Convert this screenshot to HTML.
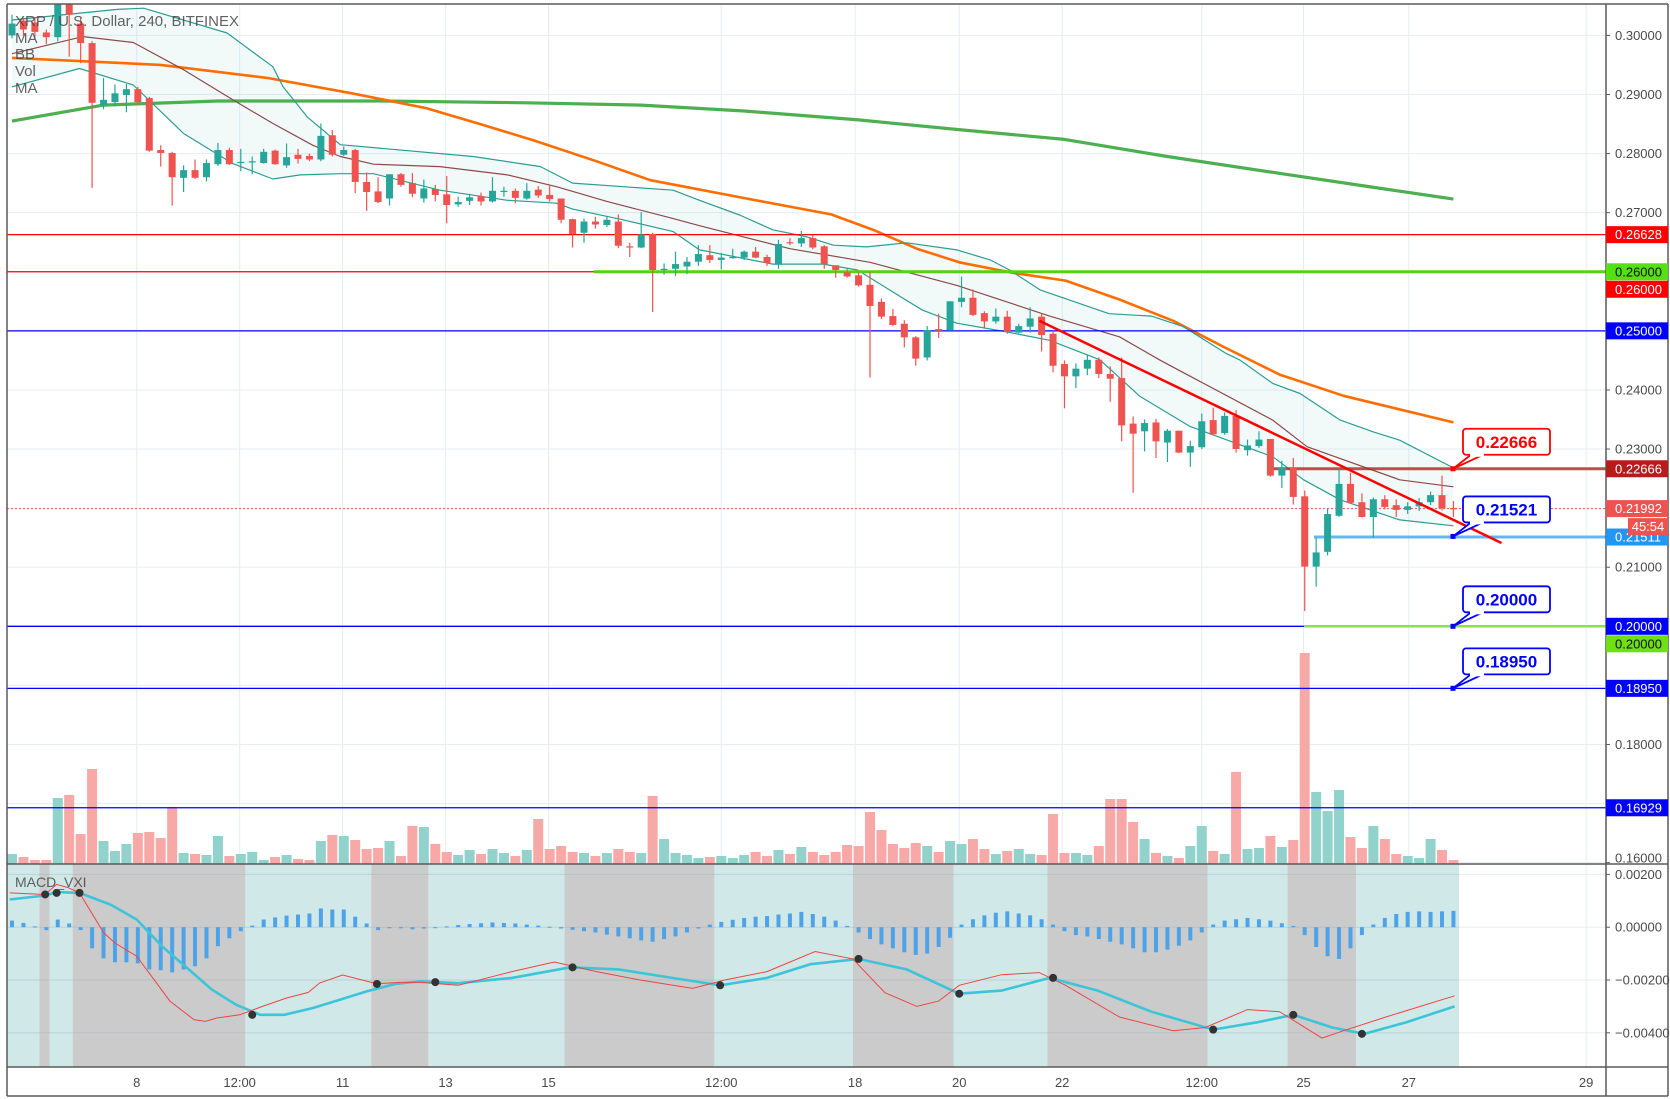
<!DOCTYPE html>
<html><head><meta charset="utf-8">
<style>
html,body{margin:0;padding:0;background:#fff;}
svg{display:block;font-family:"Liberation Sans",sans-serif;}
</style></head>
<body>
<svg id="chart" xmlns="http://www.w3.org/2000/svg" width="1670" height="1099" viewBox="0 0 1670 1099">
<defs>
<clipPath id="mainClip"><rect x="7" y="4" width="1599" height="860"/></clipPath>
<clipPath id="macdClip"><rect x="7" y="864" width="1599" height="203"/></clipPath>
</defs>
<rect x="0" y="0" width="1670" height="1099" fill="#ffffff"/>
<g id="grid"></g>
<g id="macdBg" clip-path="url(#macdClip)"></g>
<g id="main" clip-path="url(#mainClip)"></g>
<g id="macd" clip-path="url(#macdClip)"></g>
<g id="axes"></g>
<g id="overlay"></g>
</svg>
<script>
// ---- data ----
const opens=[.3000,.3025,.3022,.3005,.2997,.3070,.3020,.2987,.2882,.2887,.2899,.2909,.2894,.2806,.2801,.2759,.2772,.2760,.2782,.2806,.2786,.2786,.2784,.2805,.2780,.2798,.2796,.2790,.2831,.2798,
.2806,.2752,.2736,.2724,.2765,.2750,.2724,.2740,.2731,.2714,.2720,.2728,.2719,.2736,.2737,.2724,.2739,.2730,.2724,.2689,.2666,.2685,.2679,.2685,.2643,.2641,.2664,.2603,.2605,.2609,.2617,
.2628,.2620,.2624,.2624,.2634,.2625,.2612,.2650,.2648,.2657,.2643,.2611,.2599,.2594,.2578,.2549,.2525,.2512,.2489,.2455,.2503,.2501,.2549,.2556,.2530,.2516,.2524,.2497,.2507,.2524,
.2495,.2444,.2423,.2436,.2451,.2427,.2420,.2343,.2330,.2345,.2311,.2331,.2294,.2303,.2349,.2327,.2356,.2298,.2305,.2317,.2255,.2269,.2220,.2101,.2126,.2187,.2241,.2210,.2185,.2215,.2205,.2197,.2203,.2210,.2222,.2200];
const closes=[.3020,.3010,.3006,.2997,.3070,.3035,.2987,.2886,.2891,.2902,.2909,.2887,.2805,.2801,.2760,.2772,.2759,.2784,.2806,.2782,.2786,.2787,.2803,.2782,.2794,.2791,.2790,.2830,.2798,.2806,
.2752,.2735,.2718,.2765,.2747,.2732,.2741,.2730,.2713,.2718,.2726,.2719,.2737,.2737,.2725,.2737,.2729,.2723,.2688,.2664,.2685,.2680,.2688,.2644,.2642,.2663,.2603,.2605,.2613,.2617,.2630,
.2620,.2624,.2625,.2634,.2624,.2615,.2647,.2648,.2657,.2641,.2613,.2603,.2592,.2577,.2542,.2524,.2510,.2489,.2453,.2501,.2500,.2550,.2556,.2527,.2516,.2524,.2498,.2508,.2521,.2493,
.2441,.2423,.2436,.2451,.2427,.2419,.2340,.2326,.2344,.2313,.2331,.2294,.2305,.2347,.2325,.2356,.2300,.2306,.2316,.2255,.2269,.2219,.2101,.2125,.2190,.2241,.2209,.2185,.2215,.2202,.2197,.2203,.2210,.2222,.2200,.2199];
const highs=[.3035,.3030,.3030,.3010,.3075,.3075,.3030,.2990,.2928,.2917,.2918,.2913,.2896,.2814,.2803,.2780,.2790,.2790,.2818,.2810,.2808,.2795,.2808,.2807,.2817,.2808,.2800,.2851,.2840,.2812,
.2808,.2768,.2760,.2765,.2767,.2767,.2756,.2747,.2762,.2727,.2732,.2734,.2760,.2744,.2741,.2750,.2745,.2747,.2724,.2690,.2690,.2693,.2693,.2697,.2649,.2701,.2666,.2614,.2634,.2625,.2645,
.2645,.2632,.2639,.2636,.2642,.2629,.2654,.2657,.2669,.2662,.2645,.2611,.2605,.2600,.2600,.2555,.2537,.2518,.2491,.2508,.2529,.2550,.2592,.2570,.2533,.2538,.2534,.2512,.2540,.2530,
.2500,.2450,.2445,.2460,.2455,.2440,.2455,.2355,.2350,.2351,.2334,.2331,.2314,.2360,.2370,.2362,.2366,.2316,.2330,.2317,.2280,.2285,.2230,.2150,.2200,.2266,.2260,.2225,.2218,.2222,.2215,.2210,.2217,.2228,.2255,.2212];
const lows=[.2995,.3000,.2995,.2985,.2990,.2964,.2953,.2742,.2875,.2880,.2870,.2882,.2803,.2778,.2712,.2735,.2757,.2753,.2779,.2781,.2770,.2765,.2783,.2781,.2776,.2783,.2787,.2787,.2795,.2796,
.2733,.2703,.2716,.2712,.2744,.2726,.2717,.2719,.2682,.2710,.2713,.2712,.2717,.2727,.2716,.2722,.2725,.2719,.2682,.2641,.2649,.2673,.2676,.2640,.2625,.2640,.2532,.2595,.2593,.2596,.2610,
.2615,.2604,.2622,.2620,.2623,.2610,.2605,.2645,.2642,.2638,.2605,.2590,.2590,.2575,.2421,.2520,.2508,.2472,.2441,.2450,.2488,.2500,.2540,.2525,.2505,.2512,.2495,.2496,.2497,.2465,
.2430,.2369,.2403,.2425,.2420,.2380,.2313,.2226,.2296,.2285,.2278,.2293,.2270,.2300,.2323,.2324,.2294,.2289,.2302,.2253,.2234,.2206,.2026,.2067,.2120,.2185,.2207,.2184,.2150,.2198,.2185,.2190,.2195,.2205,.2196,.2185];
const volumes=[100,70,40,40,660,690,300,950,230,130,200,310,320,260,570,110,100,90,280,80,100,120,40,70,90,50,40,230,290,280,240,150,160,230,80,380,370,
200,120,90,140,100,150,110,80,140,
450,150,180,120,110,80,110,150,120,110,680,250,110,90,60,70,80,60,90,120,80,140,100,170,120,90,120,190,180,520,340,200,160,210,180,120,230,200,250,150,100,130,150,100,90,
500,110,110,90,180,650,650,420,250,110,80,60,180,380,130,100,920,150,160,280,170,240,2110,720,530,740,270,160,380,250,100,80,60,250,140,40];
// moving averages (candle index, value)
const maGreenIdx=[0,8,18,32,45,55,64,74,83,92,101,111,120,126];
const maGreenVal=[.2855,.2882,.2889,.2889,.2886,.2882,.2872,.2857,.2840,.2824,.2795,.2766,.2740,.2723];
const maOrangeIdx=[0,13,22.3,29.7,36.2,40.9,45.5,51.1,55.8,64.2,71.6,75.4,79.1,82.8,87.5,92.1,96.8,101.5,106.1,110.8,116.4,126];
const maOrangeVal=[.2962,.2950,.2928,.2902,.2877,.2850,.2823,.2787,.2755,.2724,.2697,.2670,.2639,.2616,.2598,.2585,.2553,.2517,.2471,.2426,.2390,.2345];
const bbUpperIdx=[0,9.2,11.5,18.8,22.8,23.7,25.8,28.7,40.3,46.2,49,57.8,60.1,63.6,66.5,69.5,71.8,74.7,78.2,82.6,85.5,87.2,89.9,95.9,99.6,102.4,106.1,107.3,110.2,112.6,116.1,119,121.3,126];
const bbUpperVal=[.3026,.3044,.3046,.3004,.2947,.2913,.2862,.2815,.2795,.2778,.2750,.2738,.2721,.2696,.2671,.2659,.2645,.2642,.2649,.2637,.2620,.2603,.2569,.2529,.2525,.2507,.2462,.2451,.2411,.2394,.2349,.2329,.2315,.2268];
const bbMidIdx=[0,6.2,10.6,15,19.3,22.8,26.3,28.7,31.6,37.4,43.3,47.6,52,57.8,60.1,68,75,82.6,90.7,96.8,100.3,103,110.2,113.2,121.3,126];
const bbMidVal=[.2969,.2998,.2988,.2942,.2891,.2851,.2814,.2795,.2782,.2778,.2764,.2744,.2719,.2690,.2678,.2639,.2616,.2577,.2525,.2490,.2451,.2423,.2349,.2304,.2248,.2236];
const bbLowerIdx=[0,5.9,10.6,15,19.3,22.8,25.2,28.7,31.6,37.4,43.3,47.6,49,53.4,57.8,60.1,66.5,70.9,73.9,77.9,79.6,82.6,87,90.7,95.1,98.6,103,110.2,112.9,116.1,121.3,126];
const bbLowerVal=[.2913,.2944,.2916,.2834,.2783,.2757,.2764,.2766,.2766,.2738,.2721,.2716,.2706,.2688,.2668,.2637,.2613,.2613,.2603,.2555,.2535,.2513,.2498,.2484,.2451,.2389,.2338,.2287,.2248,.2214,.2180,.2170];
// MACD
const macdHist=[0.00025,0.00016,0.00003,-0.00011,0.00029,0.00014,-0.00011,-0.0008,-0.00118,-0.00133,-0.00133,-0.00137,-0.0016,-0.00163,-0.00171,-0.0016,-0.00148,-0.00118,-0.00072,-0.00042,-0.00015,0.00006,0.00029,0.00037,0.00044,0.00048,0.00052,0.00071,0.00067,0.00067,0.0004,0.00014,-0.00011,-0.00004,-0.00004,-0.00008,
-0.00005,-0.00003,0.00003,0.00008,0.00012,0.00015,0.00018,0.00016,0.00014,0.00010,0.00006,0.00002,
-0.00005,-0.00010,-0.00015,-0.00020,-0.00028,-0.00035,-0.00042,
-0.00050,-0.00055,-0.00045,-0.00035,-0.00020,-0.00005,
0.00010,0.00020,0.00028,0.00035,0.00040,0.00042,0.00048,0.00052,0.00058,0.00050,0.00040,0.00025,0.00005,
-0.00020,-0.00045,-0.00065,-0.00080,-0.00095,-0.00105,-0.00100,-0.00075,-0.00040,
0.00010,0.00030,0.00045,0.00055,0.00060,0.00052,0.00045,0.00030,0.00010,
-0.00015,-0.00030,-0.00035,-0.00045,-0.00055,-0.00065,-0.00080,-0.00095,-0.00095,-0.00085,-0.00070,-0.00050,-0.00020,
0.00010,0.00025,0.00030,0.00035,0.00030,0.00025,0.00015,0.00005,
-0.00030,-0.00075,-0.00110,-0.00120,-0.00080,-0.00030,
0.00010,0.00035,0.00050,0.00058,0.00060,0.00058,0.00060,0.00062];
const macdIdx=[-0.2,2.9,3.9,4.9,5.9,8,9,10.9,13.8,15.9,16.9,17.9,19.9,21.9,24,25.9,26.9,28.9,31.9,33.9,35.7,39,43.7,47.4,51.1,54.9,59.5,62.3,66,70.2,73.5,76.3,79.1,81,82.8,86.5,89.8,92.1,96.8,101.5,104.3,108,110.8,114.5,116.4,120.1,126.1];
const macdVal=[0.0013,0.00124,0.00162,0.0015,0.0013,-0.0002,-0.0006,-0.0011,-0.0028,-0.0035,-0.00357,-0.00344,-0.00332,-0.003,-0.00268,-0.00247,-0.00211,-0.00181,-0.00214,-0.00209,-0.00209,-0.0022,-0.00168,-0.00132,-0.00168,-0.002,-0.00232,-0.002,-0.00168,-0.00092,-0.0012,-0.00248,-0.003,-0.0028,-0.0022,-0.0018,-0.00172,-0.0022,-0.0034,-0.00392,-0.0038,-0.00312,-0.0032,-0.0042,-0.00392,-0.0034,-0.0026];
const sigIdx=[-0.2,2.9,3.9,5.9,8.6,10.9,13.1,15.3,17.5,19.6,21.7,23.8,26.3,28.2,31,33.5,35.7,39,43.7,48.8,53,57.7,61.9,66,69.8,74,78.2,82.8,86.5,90.7,94.9,99.6,105,108.9,112,115.4,118.2,121.9,126.1];
const sigVal=[0.00105,0.0012,0.00133,0.0013,0.00086,0.00029,-0.00072,-0.00154,-0.00237,-0.00294,-0.00332,-0.00332,-0.00306,-0.00281,-0.00243,-0.00215,-0.00205,-0.00212,-0.00192,-0.00152,-0.0016,-0.00192,-0.0022,-0.00192,-0.0014,-0.0012,-0.0016,-0.00252,-0.0024,-0.00192,-0.0024,-0.0032,-0.00388,-0.0036,-0.00332,-0.0038,-0.00404,-0.0036,-0.003];
const crossIdx=[2.9,3.9,5.9,21,31.9,37,49,61.9,74,82.8,91,105,112,118];
const crossVal=[0.00124,0.0013,0.0013,-0.00332,-0.00215,-0.00208,-0.00152,-0.0022,-0.0012,-0.00252,-0.00192,-0.00388,-0.00332,-0.00404];
const bandStart=[-0.5,2.4,3.3,5.3,20.4,31.4,36.4,48.3,61.4,73.5,82.3,90.5,104.5,111.5,117.5];
const bandEnd=[2.4,3.3,5.3,20.4,31.4,36.4,48.3,61.4,73.5,82.3,90.5,104.5,111.5,117.5,126.5];
const bandType=[0,1,0,1,0,1,0,1,0,1,0,1,0,1,0];
// axis ticks
const priceTicks=[0.30,0.29,0.28,0.27,0.24,0.23,0.21,0.18,0.16];
const gridPrices=[0.30,0.29,0.28,0.27,0.26,0.25,0.24,0.23,0.22,0.21,0.20,0.19,0.18,0.17,0.16];
const macdTicks=[0.002,0,-0.002,-0.004];
const timeLabels=["8","12:00","11","13","15","12:00","18","20","22","12:00","25","27","29"];
const timeIdx=[10.9,19.9,28.9,37.9,46.9,62,73.7,82.8,91.8,104,112.9,122.1,137.6];

// ---- scales ----
const NS="http://www.w3.org/2000/svg";
function py(p){return 35.4+(0.30-p)*5909;}
function cx(i){return 12+i*11.44;}
function my(v){return 927.2-v*26400;}
function vh(v){return v*0.1;}
const RIGHT=1606, VBASE=864, MTOP=864, MBOT=1067;
function mk(tag,parent){const e=document.createElementNS(NS,tag);parent.appendChild(e);return e;}
function fmt(v){return v.toFixed(5);}
const G=document.getElementById('grid'),M=document.getElementById('main'),MB=document.getElementById('macdBg'),MC=document.getElementById('macd'),AX=document.getElementById('axes'),OV=document.getElementById('overlay');

// grid
gridPrices.forEach(p=>{const l=mk('line',G);l.setAttribute('x1',7);l.setAttribute('x2',RIGHT);l.setAttribute('y1',py(p));l.setAttribute('y2',py(p));l.setAttribute('stroke','#e6edf3');l.setAttribute('stroke-width',1);

});
macdTicks.forEach(v=>{const l=mk('line',G);l.setAttribute('x1',7);l.setAttribute('x2',RIGHT);l.setAttribute('y1',my(v));l.setAttribute('y2',my(v));l.setAttribute('stroke','#e6edf3');

});
timeIdx.forEach(i=>{const l=mk('line',G);l.setAttribute('x1',cx(i));l.setAttribute('x2',cx(i));l.setAttribute('y1',4);l.setAttribute('y2',MBOT);l.setAttribute('stroke','#e6edf3');

});

// MACD background bands
bandStart.forEach((s,k)=>{const r=mk('rect',MB);const x0=cx(s),x1=cx(bandEnd[k]);r.setAttribute('x',Math.max(7,x0));r.setAttribute('y',MTOP);r.setAttribute('width',x1-Math.max(7,x0));r.setAttribute('height',MBOT-MTOP);r.setAttribute('fill',bandType[k]?'#cbcbcb':'#d0e8e8');

});
macdTicks.forEach(v=>{const l=mk('line',MB);l.setAttribute('x1',7);l.setAttribute('x2',1459);l.setAttribute('y1',my(v));l.setAttribute('y2',my(v));l.setAttribute('stroke','rgba(150,170,180,0.35)');

});

function pathFrom(idx,vals,yf){return idx.map((i,k)=>(k?'L':'M')+cx(i).toFixed(1)+' '+yf(vals[k]).toFixed(1)).join(' ');}

// Bollinger fill
const fill=mk('path',M);
fill.setAttribute('d',pathFrom(bbUpperIdx,bbUpperVal,py)+' '+bbLowerIdx.slice().reverse().map((i,k)=>'L'+cx(i).toFixed(1)+' '+py(bbLowerVal[bbLowerVal.length-1-k]).toFixed(1)).join(' ')+' Z');
fill.setAttribute('fill','rgba(38,166,154,0.06)');



// volume bars
volumes.forEach((v,i)=>{const r=mk('rect',M);const up=closes[i]>=opens[i];r.setAttribute('x',cx(i)-5);r.setAttribute('width',10);r.setAttribute('y',VBASE-vh(v));r.setAttribute('height',vh(v));r.setAttribute('fill',up?'#92d2cc':'#f7a9a7');

});

// lines
function line(idx,vals,color,w,name){const p=mk('path',M);p.setAttribute('d',pathFrom(idx,vals,py));p.setAttribute('fill','none');p.setAttribute('stroke',color);p.setAttribute('stroke-width',w);p.setAttribute('stroke-linejoin','round');return p;}
const g1=line(maGreenIdx,maGreenVal,'#4caf50',3.2);


const o1=line(maOrangeIdx,maOrangeVal,'#ff6d00',2.6);


const bu=line(bbUpperIdx,bbUpperVal,'#2a9d94',1.2);


const bl=line(bbLowerIdx,bbLowerVal,'#2a9d94',1.2);


const bm=line(bbMidIdx,bbMidVal,'#8d4a4a',1.2);



// horizontal levels
function hline(p,x0,x1,color,w,dash){const l=mk('line',M);l.setAttribute('x1',x0);l.setAttribute('x2',x1);l.setAttribute('y1',py(p));l.setAttribute('y2',py(p));l.setAttribute('stroke',color);l.setAttribute('stroke-width',w);if(dash)l.setAttribute('stroke-dasharray',dash);return l;}
let h;
h=hline(0.26628,7,RIGHT,'#ff0000',1.3);


h=hline(0.26,7,RIGHT,'#ff0000',1.3);


h=hline(0.26,594,RIGHT,'#55d214',3);


h=hline(0.25,7,RIGHT,'#0000ff',1.3);


h=hline(0.22666,1268,RIGHT,'rgba(178,34,34,0.8)',3);


h=hline(0.21992,7,RIGHT,'#ef5350',1,'2,2');


h=hline(0.21511,1314,RIGHT,'#64b5f6',3);


h=hline(0.20,7,1304,'#0000ff',1.3);


h=hline(0.20,1304,RIGHT,'#8de04a',2.5);


h=hline(0.1895,7,RIGHT,'#0000ff',1.3);


h=hline(0.16929,7,RIGHT,'#0000ff',1.3);



// candles
opens.forEach((o,i)=>{const c=closes[i],up=c>=o,col=up?'#26a69a':'#ef5350',x=cx(i);
const w=mk('line',M);w.setAttribute('x1',x);w.setAttribute('x2',x);w.setAttribute('y1',py(highs[i]));w.setAttribute('y2',py(lows[i]));w.setAttribute('stroke',col);w.setAttribute('stroke-width',1.2);


const b=mk('rect',M);const y0=py(Math.max(o,c)),y1=py(Math.min(o,c));b.setAttribute('x',x-3.5);b.setAttribute('width',7);b.setAttribute('y',y0);b.setAttribute('height',Math.max(1.2,y1-y0));b.setAttribute('fill',col);

});

// trend line
const trendIdx=[89.8,130.2], trendVal=[0.2517,0.2141];
const tl=mk('line',M);tl.setAttribute('x1',cx(trendIdx[0]));tl.setAttribute('y1',py(trendVal[0]));tl.setAttribute('x2',cx(trendIdx[1]));tl.setAttribute('y2',py(trendVal[1]));tl.setAttribute('stroke','#ff0000');tl.setAttribute('stroke-width',2.5);



// MACD
macdHist.forEach((v,i)=>{const r=mk('rect',MC);const y0=my(Math.max(v,0)),y1=my(Math.min(v,0));r.setAttribute('x',cx(i)-2);r.setAttribute('width',4);r.setAttribute('y',y0);r.setAttribute('height',Math.max(1,y1-y0));r.setAttribute('fill','#4ea3e8');

});
const sl=mk('path',MC);sl.setAttribute('d',pathFrom(sigIdx,sigVal,my));sl.setAttribute('fill','none');sl.setAttribute('stroke','#3cc4d8');sl.setAttribute('stroke-width',2.6);


const ml=mk('path',MC);ml.setAttribute('d',pathFrom(macdIdx,macdVal,my));ml.setAttribute('fill','none');ml.setAttribute('stroke','#ef4444');ml.setAttribute('stroke-width',1);


crossIdx.forEach((i,k)=>{const d=mk('circle',MC);d.setAttribute('cx',cx(i));d.setAttribute('cy',my(crossVal[k]));d.setAttribute('r',4);d.setAttribute('fill','#333');

});

// frames & axes
function fl(x1,y1,x2,y2,name){const l=mk('line',AX);l.setAttribute('x1',x1);l.setAttribute('y1',y1);l.setAttribute('x2',x2);l.setAttribute('y2',y2);l.setAttribute('stroke','#5a5a5a');l.setAttribute('stroke-width',1.5);return l;}
let f;
f=fl(7,4,1668,4);


f=fl(7,4,7,1096);


f=fl(1668,4,1668,1096);


f=fl(7,1096,1668,1096);


f=fl(RIGHT,4,RIGHT,1096);


f=fl(7,864,1668,864);


f=fl(7,MBOT,1668,MBOT);



function txt(parent,x,y,s,size,color,anchor,weight){const t=mk('text',parent);t.setAttribute('x',x);t.setAttribute('y',y);t.setAttribute('font-size',size);t.setAttribute('fill',color);if(anchor)t.setAttribute('text-anchor',anchor);if(weight)t.setAttribute('font-weight',weight);t.textContent=s;return t;}
priceTicks.forEach(p=>{const y=py(p);const tk=mk('line',AX);tk.setAttribute('x1',RIGHT);tk.setAttribute('x2',RIGHT+4);tk.setAttribute('y1',y);tk.setAttribute('y2',y);tk.setAttribute('stroke','#5a5a5a');


const t=txt(AX,1615,Math.min(y,858)+4.5,fmt(p),13,'#4a4a4a');

});
macdTicks.forEach(v=>{const y=my(v);const tk=mk('line',AX);tk.setAttribute('x1',RIGHT);tk.setAttribute('x2',RIGHT+4);tk.setAttribute('y1',y);tk.setAttribute('y2',y);tk.setAttribute('stroke','#5a5a5a');


const t=txt(AX,1615,Math.max(y,872)+4.5,(v<0?'\u2212':'')+Math.abs(v).toFixed(5),13,'#4a4a4a');

});
timeLabels.forEach((s,k)=>{const t=txt(AX,cx(timeIdx[k]),1087,s,13,'#4a4a4a','middle');

});

// right-axis price badges
const badgeVals=[0.26628,0.26,0.26,0.25,0.22666,0.21992,0.21511,0.20,0.20,0.1895,0.16929];
const badgeOff=[0,0,17.5,0,0,0,0,0,17.5,0,0];
const badgeBg=['#ff0000','#55e014','#ff0000','#0000ff','#b71c1c','#ef5350','#2196f3','#0000ff','#6fe014','#0000ff','#0000ff'];
const badgeFg=['#fff','#111','#fff','#fff','#fff','#fff','#fff','#fff','#111','#fff','#fff'];
badgeVals.forEach((p,k)=>{const y=py(p)+badgeOff[k];const r=mk('rect',OV);r.setAttribute('x',RIGHT);r.setAttribute('y',y-8.5);r.setAttribute('width',62);r.setAttribute('height',17);r.setAttribute('fill',badgeBg[k]);


const t=txt(OV,1615,y+4.5,fmt(p),13,badgeFg[k]);

});
const cd=mk('rect',OV);cd.setAttribute('x',1628);cd.setAttribute('y',py(0.21992)+9.5);cd.setAttribute('width',40);cd.setAttribute('height',17);cd.setAttribute('fill','#ef5350');


const cdt=txt(OV,1648,py(0.21992)+22.5,'45:54',13,'#fff','middle');



// callouts
const calloutVals=[0.22666,0.21521,0.20,0.1895];
const calloutCol=['#ff0000','#0000ff','#0000ff','#0000ff'];
calloutVals.forEach((p,k)=>{const yp=py(p),col=calloutCol[k];const bx=1463,bw=87,bh=26,by=yp-40;
const ptr=mk('path',OV);ptr.setAttribute('d','M'+(bx+8)+' '+(by+bh)+' L1453 '+yp+' L'+(bx+20)+' '+(by+bh));ptr.setAttribute('fill','#fff');ptr.setAttribute('stroke',col);ptr.setAttribute('stroke-width',1.8);


const r=mk('rect',OV);r.setAttribute('x',bx);r.setAttribute('y',by);r.setAttribute('width',bw);r.setAttribute('height',bh);r.setAttribute('rx',3);r.setAttribute('fill','#fff');r.setAttribute('stroke',col);r.setAttribute('stroke-width',1.8);


const cv=mk('rect',OV);cv.setAttribute('x',bx+7);cv.setAttribute('y',by+bh-2);cv.setAttribute('width',14);cv.setAttribute('height',4);cv.setAttribute('fill','#fff');


const d=mk('rect',OV);d.setAttribute('x',1450.5);d.setAttribute('y',yp-2.5);d.setAttribute('width',5);d.setAttribute('height',5);d.setAttribute('fill',col);


const t=txt(OV,bx+bw/2,by+19,fmt(p),17,col,'middle','bold');

});

// legends
const legend=['XRP / U.S. Dollar, 240, BITFINEX','MA','BB','Vol','MA'];
const legendY=[26,43,59,76,93];
legend.forEach((s,k)=>{const t=txt(OV,15,legendY[k],s,15,'rgba(70,70,70,0.85)');

});
const mt=txt(OV,15,887,'MACD_VXI',14,'rgba(70,70,70,0.85)');


</script>
</body></html>
